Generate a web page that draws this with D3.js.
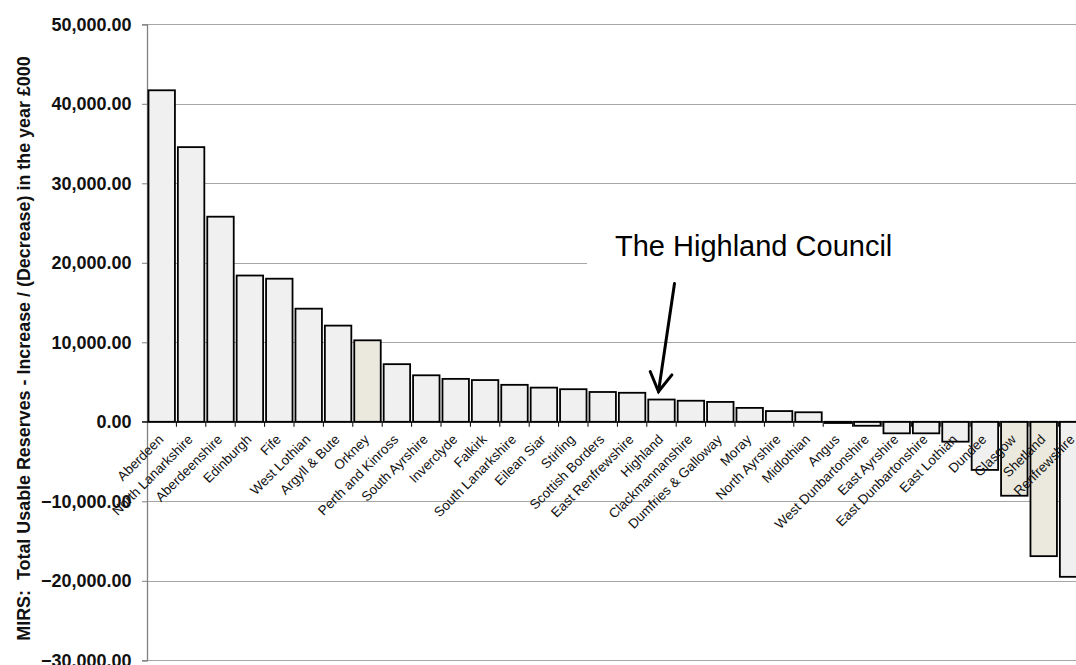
<!DOCTYPE html>
<html>
<head>
<meta charset="utf-8">
<script src="https://cdn.jsdelivr.net/npm/d3@7"></script>
<style>
html,body{margin:0;padding:0;background:#fff;overflow:hidden;}
svg{display:block;font-family:"Liberation Sans",Arial,sans-serif;}
</style>
</head>
<body>
<svg id="chart" width="1076" height="665"></svg>
<script>
const councils = ["Aberdeen","North Lanarkshire","Aberdeenshire","Edinburgh","Fife","West Lothian","Argyll & Bute","Orkney","Perth and Kinross","South Ayrshire","Inverclyde","Falkirk","South Lanarkshire","Eilean Siar","Stirling","Scottish Borders","East Renfrewshire","Highland","Clackmannanshire","Dumfries & Galloway","Moray","North Ayrshire","Midlothian","Angus","West Dunbartonshire","East Ayrshire","East Dunbartonshire","East Lothian","Dundee","Glasgow","Shetland","Renfrewshire"];
const reserveChange = [41700,34550,25800,18400,18000,14230,12100,10250,7250,5850,5400,5250,4650,4300,4100,3750,3650,2800,2650,2500,1750,1350,1200,-150,-500,-1450,-1450,-2500,-6050,-9300,-16900,-19500];
const islandCouncils = ["Orkney","Glasgow","Shetland"];
const yTicks = [-30000,-20000,-10000,0,10000,20000,30000,40000,50000];
const yTitle = "MIRS:  Total Usable Reserves - Increase / (Decrease) in the year £000";
const annotationText = "The Highland Council";
const annotatedCouncil = "Highland";

const svg = d3.select("#chart");
const left = 147, right = 147 + 29.4 * councils.length;
const x = d3.scaleBand().domain(councils).range([left, right]).padding(0);
const y = d3.scaleLinear().domain([-30000, 50000]).range([660.3, 24.3]);
const bw = x.bandwidth() * 0.9;

// gridlines
svg.append("g").selectAll("line").data(yTicks.filter(d => d !== 0)).join("line")
  .attr("x1", left).attr("x2", right + 20)
  .attr("y1", d => Math.round(y(d)) + 0.5).attr("y2", d => Math.round(y(d)) + 0.5)
  .attr("stroke", "#a6a6a6").attr("stroke-width", 1);

// y axis
const yAxis = d3.axisLeft(y).tickValues(yTicks).tickSize(5).tickPadding(10)
  .tickFormat(d3.format(",.2f"));
const ga = svg.append("g").attr("transform", `translate(${left},0)`).call(yAxis);
ga.select(".domain").attr("stroke", "#808080").attr("stroke-width", 1.3);
ga.selectAll(".tick line").attr("stroke", "#808080");
ga.selectAll(".tick text").attr("font-size", "18px").attr("font-weight", "bold")
  .attr("fill", "#111").attr("font-family", '"Liberation Sans",Arial,sans-serif')
  .attr("x", -15.5);

// white annotation box
svg.append("rect").attr("x", 587).attr("y", 226).attr("width", 520).attr("height", 46).attr("fill", "#fff");

// bars
svg.append("g").selectAll("rect").data(councils).join("rect")
  .attr("x", (d) => x(d) + (x.bandwidth() - bw) / 2)
  .attr("width", bw)
  .attr("y", (d, i) => y(Math.max(0, reserveChange[i])))
  .attr("height", (d, i) => Math.abs(y(reserveChange[i]) - y(0)))
  .attr("fill", d => islandCouncils.includes(d) ? "#ebe9dd" : "#f0f0f0")
  .attr("stroke", "#000").attr("stroke-width", 1.8);

// x axis line and ticks
const y0 = y(0);
svg.append("line").attr("x1", left - 5).attr("x2", right + 20).attr("y1", y0).attr("y2", y0)
  .attr("stroke", "#000").attr("stroke-width", 1.3);
svg.append("g").selectAll("line").data(councils).join("line")
  .attr("x1", d => x(d) + x.bandwidth()).attr("x2", d => x(d) + x.bandwidth())
  .attr("y1", y0).attr("y2", y0 + 5).attr("stroke", "#000").attr("stroke-width", 1);

// category labels
svg.append("g").selectAll("text").data(councils).join("text")
  .attr("transform", d => `translate(${x(d) + x.bandwidth() / 2 + 2.5},${y0 + 18.5}) rotate(-45)`)
  .attr("text-anchor", "end").attr("font-size", "13.5px").attr("fill", "#111")
  .text(d => d);

// y title
svg.append("text").attr("transform", `translate(29.5,348.5) rotate(-90)`)
  .attr("text-anchor", "middle").attr("font-size", "17.9px").attr("font-weight", "bold")
  .attr("fill", "#111")
  .attr("xml:space", "preserve").style("white-space", "pre")
  .text(yTitle);

// annotation
svg.append("text").attr("x", 615).attr("y", 255.7).attr("font-size", "29px").attr("fill", "#000")
  .text(annotationText);
const hi = councils.indexOf(annotatedCouncil);
const tipX = x(annotatedCouncil) + x.bandwidth() / 2 - 3;
const tipY = y(reserveChange[hi]) - 8;
const arrow = svg.append("g").attr("stroke", "#000").attr("stroke-width", 3).attr("fill", "none")
  .attr("stroke-linecap", "round");
arrow.append("line").attr("x1", tipX + 16).attr("y1", tipY - 108).attr("x2", tipX).attr("y2", tipY);
arrow.append("polyline").attr("points", `${tipX - 8.3},${tipY - 20} ${tipX},${tipY} ${tipX + 13.4},${tipY - 16.7}`);
</script>
</body>
</html>
